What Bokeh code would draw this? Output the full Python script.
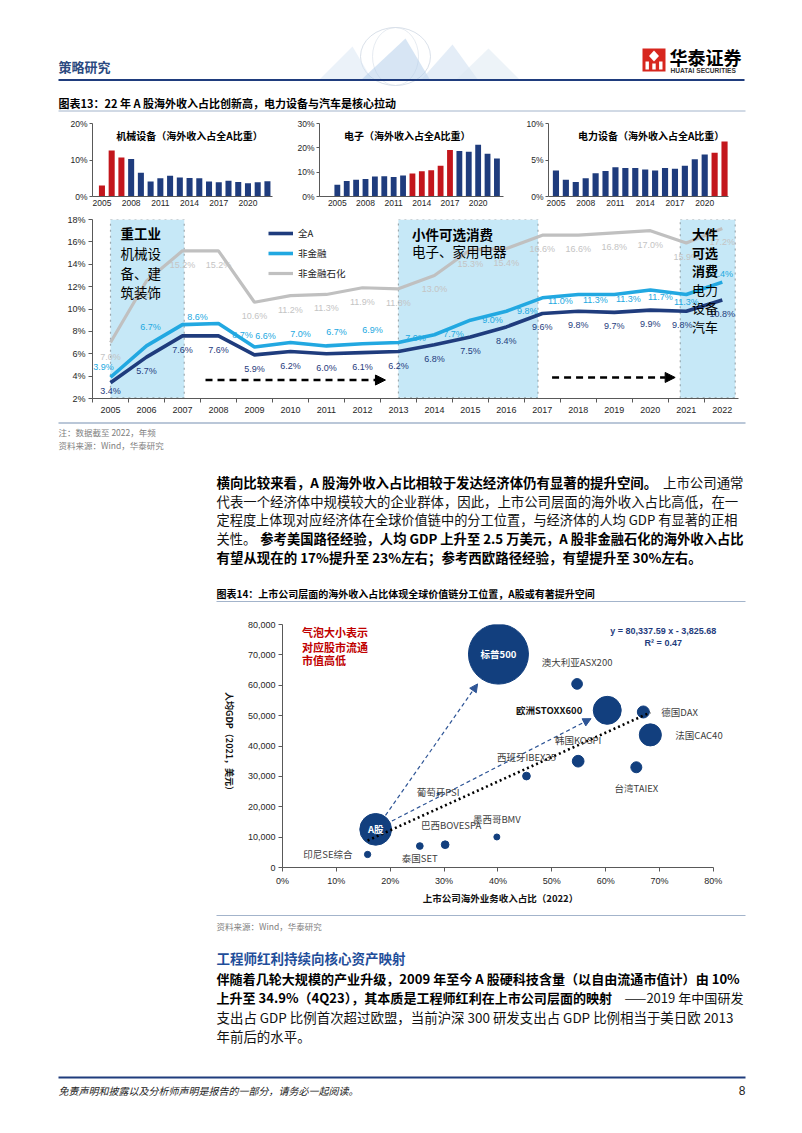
import math
from bokeh.plotting import figure
from bokeh.layouts import column, row
from bokeh.models import (Range1d, Label, LabelSet, ColumnDataSource, FixedTicker,
                          PrintfTickFormatter, NumeralTickFormatter, Arrow, NormalHead,
                          BoxAnnotation, Legend, LegendItem)
from bokeh.core.properties import value
from bokeh.embed import file_html
from bokeh.resources import INLINE

# ------------------------------------------------------------------ data
years = list(range(2005, 2023))

# small bar charts: share of overseas revenue in all-A total (%)
machinery_share = [3.0, 12.6, 10.7, 10.3, 6.5, 4.1, 5.0, 5.7, 5.2, 5.1, 5.0, 4.1, 3.9, 4.3, 4.0, 3.6, 3.9, 4.2]
machinery_red = [2005, 2006, 2007]
electronics_share = [4.8, 6.4, 6.9, 7.2, 8.2, 8.3, 8.0, 8.6, 9.5, 10.4, 10.8, 12.6, 19.1, 18.7, 18.4, 21.3, 17.6, 15.6]
electronics_red = [2013, 2014, 2015, 2016, 2017]
power_share = [3.55, 2.3, 2.0, 2.5, 3.2, 3.5, 4.0, 3.9, 3.9, 3.7, 3.55, 3.9, 3.8, 4.2, 5.1, 5.75, 6.0, 7.55]
power_red = [2021, 2022]

# main chart: overseas revenue share (%)
all_a = [3.4, 5.7, 7.6, 7.6, 5.9, 6.2, 6.0, 6.1, 6.2, 6.8, 7.5, 8.4, 9.6, 9.8, 9.7, 9.9, 9.8, 10.8]
non_fin = [3.9, 6.7, 8.6, 8.7, 6.6, 7.0, 6.7, 6.9, 7.0, 7.7, 9.0, 9.8, 11.0, 11.3, 11.3, 11.7, 11.3, 12.4]
non_fin_ex = [7.0, 12.5, 15.2, 15.2, 10.6, 11.2, 11.3, 11.9, 11.8, 13.0, 15.3, 15.4, 16.6, 16.6, 16.8, 17.0, 15.9, 17.2]
series_names = ["全A", "非金融", "非金融石化"]

# bubble chart
markets = ["印尼SE综合", "A股", "泰国SET", "巴西BOVESPA", "墨西哥BMV", "葡萄牙PSI", "西班牙IBEX35",
           "韩国KOSPI", "澳大利亚ASX200", "欧洲STOXX600", "德国DAX", "法国CAC40", "台湾TAIEX", "标普500"]
overseas_pct = [15.8, 17.3, 25.5, 30.2, 39.8, 28.9, 45.3, 54.9, 54.7, 60.3, 67.0, 68.3, 65.7, 40.1]
gdp_per_capita = [4290, 12560, 7070, 7500, 10050, 24260, 30100, 35000, 60440, 51740, 51200, 43660, 33000, 70250]
float_mcap = [0.44, 11.2, 0.50, 0.66, 0.40, 0.05, 0.66, 1.52, 1.27, 8.7, 1.6, 5.4, 1.34, 40.0]
trend_slope = 80337.59
trend_intercept = -3825.68
trend_r2 = 0.47

# ------------------------------------------------------------------ styles
CJK = "Noto Sans CJK SC"
LAT = "Liberation Sans"
NAVY = "#1F3C7D"
RED = "#C3161C"
SKY = "#22A8E1"
GRAY = "#C0C0C0"
BOXFILL = "#C6E8F7"
AXIS = "#595959"
TICK = "#262626"
BUBBLE = "#123F7E"
RULE = "#A3B4CB"

W = 802


def text_fig(y0, y1, x0=0, x1=W, bt=0, bb=0):
    f = figure(width=x1 - x0, height=y1 - y0, x_range=Range1d(x0, x1), y_range=Range1d(y1 - bb, y0 + bt),
               x_axis_location=None, y_axis_location=None, output_backend="svg",
               toolbar_location=None, min_border=0, min_border_top=bt, min_border_bottom=bb)
    f.outline_line_color = None
    f.xgrid.visible = False
    f.ygrid.visible = False
    return f


def label(f, x, y, s, size, color="#000000", bold=False, align="left", font=CJK,
          italic=False, angle=0.0, baseline="middle"):
    style = "normal"
    if bold and italic:
        style = "bold italic"
    elif bold:
        style = "bold"
    elif italic:
        style = "italic"
    f.add_layout(Label(x=x, y=y, text=s, text_font=font, text_font_size=f"{size:.2f}px",
                       text_color=color, text_font_style=style, text_align=align,
                       text_baseline=baseline, angle=angle))


def hline(f, x0, x1, y, color, width):
    f.segment(x0=[x0], y0=[y], x1=[x1], y1=[y], line_color=color, line_width=width)


def em_width(s, bold=False):
    w = 0.0
    for ch in s:
        if ord(ch) >= 0x2E80 or ch == "—":
            w += 1.0
        elif ch == " ":
            w += 0.224
        elif ch.isdigit():
            w += 0.58 if bold else 0.56
        elif ch == "%":
            w += 0.87
        elif ch == ".":
            w += 0.27
        elif ch.isupper():
            w += 0.68
        else:
            w += 0.5
    return w


TXT_L, TXT_R = 216, 743
BODY = 13.45


def para_line(f, y, parts, last=False):
    total = sum(em_width(s, b) for s, b in parts)
    size = BODY if last else min(BODY, (TXT_R - TXT_L) / (total * 1.01))
    s0, b0 = parts[0]
    label(f, TXT_L, y, s0, size, color="#000000" if b0 else "#111111", bold=b0)
    if len(parts) > 1:
        s1, b1 = parts[1]
        label(f, TXT_R, y, s1, size, color="#000000" if b1 else "#111111", bold=b1, align="right")


def style_axes(f, size="9px"):
    for ax in f.axis:
        ax.axis_line_color = AXIS
        ax.major_tick_line_color = AXIS
        ax.minor_tick_line_color = None
        ax.major_label_text_font = LAT
        ax.major_label_text_font_size = size
        ax.major_label_text_color = TICK
        ax.major_tick_in = 0
        ax.major_tick_out = 4
    f.xgrid.visible = False
    f.ygrid.visible = False
    f.outline_line_color = None


# ------------------------------------------------------------------ A: header (y 0..114)
fa = text_fig(0, 114)
label(fa, 58, 66, "策略研究", 13, color="#2B4A80", bold=True)
fa.ellipse(x=[395], y=[56], width=[70], height=[58], fill_color=None, line_color="#C9D3E0", line_alpha=0.7)
fa.ellipse(x=[395], y=[56], width=[46], height=[58], fill_color=None, line_color="#D5DDE8", line_alpha=0.6)
fa.patches(xs=[[318, 352, 372], [360, 405, 430], [420, 452, 478], [455, 488, 520]],
           ys=[[80, 46, 80], [80, 38, 80], [80, 44, 80], [80, 48, 80]],
           fill_color=["#D8E6F3", "#AFCBEA", "#C9DBEF", "#DCE7F2"], fill_alpha=0.5, line_color=None)
fa.quad(left=[642], right=[665], top=[48], bottom=[71], fill_color="#D7261E", line_color=None)
fa.patches(xs=[[653.5, 658.5, 653.5, 648.5]], ys=[[50, 55.5, 61, 55.5]], fill_color="white", line_color=None)
fa.quad(left=[645, 651.8, 658.6], right=[648.4, 655.2, 662], top=[61, 63, 61], bottom=[69, 69, 69],
        fill_color="white", line_color=None)
label(fa, 669, 56.5, "华泰证券", 18, bold=True)
label(fa, 670, 70, "HUATAI SECURITIES", 6.6, color="#333333", bold=True, font=LAT)
hline(fa, 58, 744, 79.5, NAVY, 2)
label(fa, 58, 102, "图表13：22 年 A 股海外收入占比创新高，电力设备与汽车是核心拉动", 11, bold=True)
hline(fa, 58, 745, 110.5, RULE, 1)


# ------------------------------------------------------------------ B: three small bar charts (y 114..213)
def bar_chart(width, bl, br, xr, ymax, yticks, vals, red_years, title, tx):
    f = figure(width=width, height=99, x_range=Range1d(*xr), y_range=Range1d(0, ymax),
               min_border_left=bl, min_border_right=br, min_border_top=9, min_border_bottom=17,
               output_backend="svg", toolbar_location=None)
    colors = [RED if y in red_years else NAVY for y in years]
    f.vbar(x=years, top=vals, width=0.62, fill_color=colors, line_color=None)
    style_axes(f, "8.5px")
    f.yaxis.ticker = FixedTicker(ticks=yticks)
    f.yaxis.formatter = PrintfTickFormatter(format="%d%%")
    f.yaxis.major_tick_out = 3
    f.yaxis.major_label_standoff = 2
    f.xaxis.ticker = FixedTicker(ticks=[2005, 2008, 2011, 2014, 2017, 2020])
    f.xaxis.major_tick_out = 0
    f.xaxis.major_label_standoff = 3
    label(f, tx, ymax * 0.835, title, 10, bold=True, align="center")
    return f


f1 = bar_chart(294, 92, 22, (2004.03, 2022.52), 20, [0, 10, 20], machinery_share, machinery_red,
               "机械设备（海外收入占全A比重）", 2014.0)
f2 = bar_chart(228, 22, 19, (2003.1, 2022.7), 30, [0, 10, 20, 30], electronics_share, electronics_red,
               "电子（海外收入占全A比重）", 2012.45)
f3 = bar_chart(280, 26, 74, (2004.25, 2022.4), 10, [0, 5, 10], power_share, power_red,
               "电力设备（海外收入占全A比重）", 2014.6)

# ------------------------------------------------------------------ C: main line chart (y 213..416)
fc = figure(width=W, height=203, x_range=Range1d(2004.5, 2022.45), y_range=Range1d(2, 18),
            min_border_left=92, min_border_right=64, min_border_top=6, min_border_bottom=18,
            output_backend="svg", toolbar_location=None)
style_axes(fc, "9px")
fc.yaxis.ticker = FixedTicker(ticks=list(range(2, 19, 2)))
fc.yaxis.formatter = PrintfTickFormatter(format="%d%%")
fc.yaxis.major_label_standoff = 3
fc.xaxis.ticker = FixedTicker(ticks=years, minor_ticks=[y - 0.5 for y in years] + [2022.5])
fc.xaxis.major_tick_out = 0
fc.xaxis.minor_tick_line_color = AXIS
fc.xaxis.minor_tick_in = 0
fc.xaxis.minor_tick_out = 4
fc.xaxis.major_label_standoff = 4

for (l, r) in [(2005.0, 2007.05), (2013.0, 2016.88), (2020.83, 2022.36)]:
    fc.add_layout(BoxAnnotation(left=l, right=r, bottom=2.06, top=18, fill_color=BOXFILL, fill_alpha=1.0,
                                line_color="black", line_dash="dotted", line_width=1.2, level="underlay"))

r_ex = fc.line(years, non_fin_ex, line_color=GRAY, line_width=3.2)
r_nf = fc.line(years, non_fin, line_color=SKY, line_width=3.6)
r_all = fc.line(years, all_a, line_color=NAVY, line_width=3.6)

# label offsets (screen px, +y = up)
all_dx = [0] * 18
all_dx[16] = -4
all_dy = [-14] * 18
all_dy[0] = -8
ex_dx = [0] * 18
ex_dy = [-14] * 18
nf_dx = [-7, 4, 15, 24, 11, 10, 10, 10, 17, 19, 22, 21, 18, 17, 14, 10, 0, -2]
nf_dy = [10, 19, 8, -11, 11, 9, 14, 14, 5, 1, 0, 0, -3, -6, -5, -7, -8, 8]


def add_labels(f, vals, dx, dy, color):
    src = ColumnDataSource(dict(x=years, y=vals, t=[f"{v:.1f}%" for v in vals], dx=dx, dy=dy))
    f.add_layout(LabelSet(x="x", y="y", text="t", x_offset="dx", y_offset="dy", source=src,
                          text_font=value(LAT), text_font_size=value("9px"), text_color=color,
                          text_align=value("center"), text_baseline=value("middle")))


add_labels(fc, non_fin_ex, ex_dx, ex_dy, "#C4C4C4")
add_labels(fc, non_fin, nf_dx, nf_dy, SKY)
add_labels(fc, all_a, all_dx, all_dy, NAVY)

legend = Legend(items=[LegendItem(label=series_names[0], renderers=[r_all]),
                       LegendItem(label=series_names[1], renderers=[r_nf]),
                       LegendItem(label=series_names[2], renderers=[r_ex])],
                location=(176, 118), orientation="vertical", background_fill_alpha=0,
                border_line_color=None, label_text_font=CJK, label_text_font_size="9.5px",
                label_text_color="#222222", glyph_width=25, glyph_height=12, label_height=12,
                spacing=6, padding=0, margin=0, label_standoff=5)
fc.add_layout(legend)

for (xs, xe, yy) in [(2007.64, 2012.64, 3.65), (2017.27, 2020.69, 3.88)]:
    fc.add_layout(Arrow(x_start=xs, y_start=yy, x_end=xe, y_end=yy, line_color="black", line_width=2.4,
                        line_dash="7 5", end=NormalHead(size=10, fill_color="black", line_color="black")))

box1 = [("重工业", True), ("机械设", False), ("备、建", False), ("筑装饰", False)]
for i, (s, b) in enumerate(box1):
    label(fc, 2005.28, [16.75, 14.98, 13.26, 11.53][i], s, 13.5, bold=b)
label(fc, 2013.38, 16.72, "小件可选消费", 13.5, bold=True)
label(fc, 2013.38, 15.22, "电子、家用电器", 13.5)
box3 = [("大件", True), ("可选", True), ("消费", True), ("电力", False), ("设备", False), ("汽车", False)]
for i, (s, b) in enumerate(box3):
    label(fc, 2021.16, [16.75, 15.09, 13.43, 11.78, 10.12, 8.47][i], s, 13, bold=b)

# ------------------------------------------------------------------ D: notes + paragraph (y 416..606)
fd = text_fig(416, 606)
hline(fd, 58, 745, 422.5, RULE, 1.5)
label(fd, 58, 431, "注：数据截至 2022，年频", 8.5, color="#808080")
label(fd, 58, 444.5, "资料来源：Wind，华泰研究", 8.5, color="#808080")
p1 = [481.7, 500.4, 519.1, 537.8, 556.5]
para_line(fd, p1[0], [("横向比较来看，A 股海外收入占比相较于发达经济体仍有显著的提升空间。", True), ("上市公司通常", False)])
para_line(fd, p1[1], [("代表一个经济体中规模较大的企业群体，因此，上市公司层面的海外收入占比高低，在一", False)])
para_line(fd, p1[2], [("定程度上体现对应经济体在全球价值链中的分工位置，与经济体的人均 GDP 有显著的正相", False)])
para_line(fd, p1[3], [("关性。", False), ("参考美国路径经验，人均 GDP 上升至 2.5 万美元，A 股非金融石化的海外收入占比", True)])
para_line(fd, p1[4], [("有望从现在的 17%提升至 23%左右；参考西欧路径经验，有望提升至 30%左右。", True)], last=True)
label(fd, 216, 593, "图表14：上市公司层面的海外收入占比体现全球价值链分工位置，A股或有著提升空间", 10, bold=True)
hline(fd, 216, 745, 601, RULE, 1.2)

# ------------------------------------------------------------------ E: bubble chart (y 606..888)
fe_side = text_fig(606, 888, x0=0, x1=240, bt=18, bb=21)
label(fe_side, 229, 743, "人均GDP（2021，美元）", 9, color="#111111", bold=True, align="center",
      angle=-math.pi / 2)

fe = figure(width=W - 240, height=282, x_range=Range1d(0, 0.83), y_range=Range1d(0, 80000),
            min_border_left=42, min_border_right=73, min_border_top=18, min_border_bottom=21,
            output_backend="svg", toolbar_location=None)
style_axes(fe, "9px")
fe.yaxis.ticker = FixedTicker(ticks=list(range(0, 80001, 10000)))
fe.yaxis.formatter = NumeralTickFormatter(format="0,0")
fe.yaxis.major_label_standoff = 3
fe.xaxis.ticker = FixedTicker(ticks=[i / 10 for i in range(9)])
fe.xaxis.formatter = NumeralTickFormatter(format="0%")
fe.xaxis.major_label_standoff = 4
fe.xaxis.bounds = (0, 0.8)

bx = [v / 100 for v in overseas_pct]
diam = [60 * math.sqrt(c / 40.0) for c in float_mcap]
fe.scatter(bx, gdp_per_capita, size=diam, fill_color=BUBBLE, line_color=BUBBLE)

tx = [min(bx), max(bx)]
fe.line(tx, [trend_slope * v + trend_intercept for v in tx], line_color="black", line_width=2.6,
        line_dash="2 3")

ia = markets.index("A股")
for tgt, (f0, f1_) in [("标普500", (0.08, 0.83)), ("欧洲STOXX600", (0.07, 0.93))]:
    it = markets.index(tgt)
    dxv = bx[it] - bx[ia]
    dyv = gdp_per_capita[it] - gdp_per_capita[ia]
    fe.add_layout(Arrow(x_start=bx[ia] + f0 * dxv, y_start=gdp_per_capita[ia] + f0 * dyv,
                        x_end=bx[ia] + f1_ * dxv, y_end=gdp_per_capita[ia] + f1_ * dyv,
                        line_color="#2E5596", line_width=1.2, line_dash="4 3",
                        end=NormalHead(size=8, fill_color="#2E5596", line_color="#2E5596")))

lab_dx = [-15, 0, 0, 6, 0, 0, 0, 0, 0, -25, 18, 25, 0, 0]
lab_dy = [0, 0, -12, 20, 18, 2, 19, 21, 22, 0, 0, 0, -21, 0]
lab_align = ["right", "center", "center", "center", "center", "center", "center", "center", "center",
             "right", "left", "left", "center", "center"]
groups = {}
for i in range(len(markets)):
    if markets[i] in ("A股", "标普500"):
        key = ("center", "white", "bold")
    elif markets[i] == "欧洲STOXX600":
        key = ("right", "#111111", "bold")
    else:
        key = (lab_align[i], "#404040", "normal")
    groups.setdefault(key, []).append(i)
for (al, col, st), idx in groups.items():
    src = ColumnDataSource(dict(x=[bx[i] for i in idx], y=[gdp_per_capita[i] for i in idx],
                                t=[markets[i] for i in idx], dx=[lab_dx[i] for i in idx],
                                dy=[lab_dy[i] for i in idx]))
    fe.add_layout(LabelSet(x="x", y="y", text="t", x_offset="dx", y_offset="dy", source=src,
                           text_font=value(CJK), text_font_size=value("9.5px"), text_color=col,
                           text_font_style=value(st), text_align=value(al),
                           text_baseline=value("middle")))

for i, s in enumerate(["气泡大小表示", "对应股市流通", "市值高低"]):
    label(fe, 0.036, [77500, 72570, 68200][i], s, 11, color="#C00000", bold=True)
label(fe, 0.707, 77830, f"y = {trend_slope:,.2f} x - {abs(trend_intercept):,.2f}", 9, color=NAVY,
      bold=True, align="center", font=LAT)
label(fe, 0.707, 74000, f"R² = {trend_r2:.2f}", 9, color=NAVY, bold=True, align="center", font=LAT)

# ------------------------------------------------------------------ F: axis title, source, section, paragraph, footer (y 888..1133)
ff = text_fig(888, 1133)
label(ff, 500, 897.5, "上市公司海外业务收入占比（2022）", 9.5, color="#111111", bold=True, align="center")
hline(ff, 216, 745, 915, RULE, 1.2)
label(ff, 216, 925, "资料来源：Wind，华泰研究", 8.5, color="#808080")
label(ff, 216, 957, "工程师红利持续向核心资产映射", 13.5, color="#1F4E9A", bold=True)
p2 = [978.3, 997.2, 1016.1, 1035]
para_line(ff, p2[0], [("伴随着几轮大规模的产业升级，2009 年至今 A 股硬科技含量（以自由流通市值计）由 10%", True)])
para_line(ff, p2[1], [("上升至 34.9%（4Q23），其本质是工程师红利在上市公司层面的映射", True), ("——2019 年中国研发", False)])
para_line(ff, p2[2], [("支出占 GDP 比例首次超过欧盟，当前沪深 300 研发支出占 GDP 比例相当于美日欧 2013", False)])
para_line(ff, p2[3], [("年前后的水平。", False)], last=True)
hline(ff, 58, 745, 1077, NAVY, 2)
label(ff, 58, 1090, "免责声明和披露以及分析师声明是报告的一部分，请务必一起阅读。", 10, color="#222222", italic=True)
label(ff, 745, 1090, "8", 12, color="#222222", align="right", font=LAT)

page = column(row(fa), row(f1, f2, f3), row(fc), row(fd), row(fe_side, fe), row(ff))
open("out.html", "w").write(file_html(page, INLINE))
